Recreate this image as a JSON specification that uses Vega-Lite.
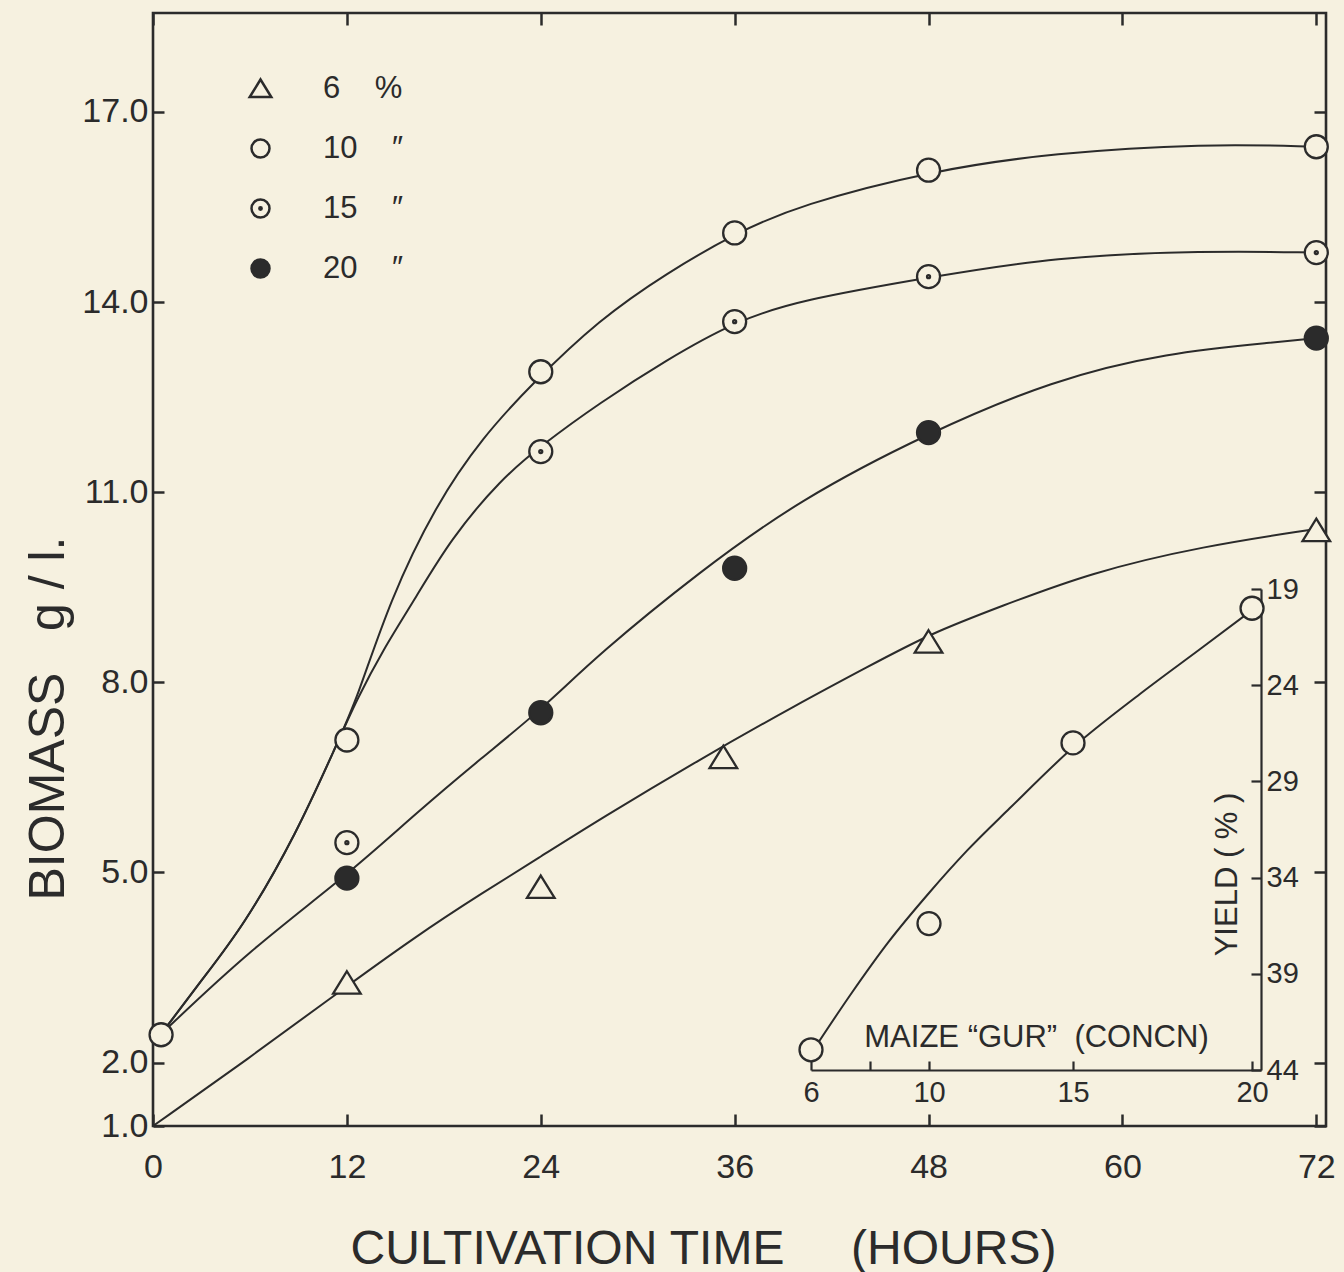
{
  "$schema": "https://vega.github.io/schema/vega-lite/v6.json",
  "width": 1173,
  "height": 1113,
  "autosize": {"type": "none"},
  "padding": {"left": 153, "top": 13, "right": 18, "bottom": 146},
  "background": "#f6f1e0",
  "config": {
    "view": {"stroke": "#2b2b2b", "strokeWidth": 2.6},
    "font": "Liberation Sans",
    "axis": {
      "grid": false,
      "labelFlush": false,
      "labelFont": "Liberation Sans",
      "titleFont": "Liberation Sans",
      "labelColor": "#2b2b2b",
      "titleColor": "#2b2b2b",
      "tickColor": "#2b2b2b",
      "domainColor": "#2b2b2b",
      "titleFontWeight": "normal"
    }
  },
  "datasets": {
    "curves": [
      {"Concn": 6, "Hours": 0, "Biomass": 1.0},
      {"Concn": 6, "Hours": 6, "Biomass": 2.08},
      {"Concn": 6, "Hours": 11.1, "Biomass": 3.04},
      {"Concn": 6, "Hours": 16.3, "Biomass": 4.0},
      {"Concn": 6, "Hours": 20.4, "Biomass": 4.68},
      {"Concn": 6, "Hours": 24, "Biomass": 5.25},
      {"Concn": 6, "Hours": 27.6, "Biomass": 5.83},
      {"Concn": 6, "Hours": 33.8, "Biomass": 6.78},
      {"Concn": 6, "Hours": 40, "Biomass": 7.67},
      {"Concn": 6, "Hours": 44.2, "Biomass": 8.24},
      {"Concn": 6, "Hours": 48.2, "Biomass": 8.78},
      {"Concn": 6, "Hours": 52.4, "Biomass": 9.19},
      {"Concn": 6, "Hours": 58, "Biomass": 9.73},
      {"Concn": 6, "Hours": 65, "Biomass": 10.15},
      {"Concn": 6, "Hours": 72, "Biomass": 10.42},
      {"Concn": 10, "Hours": 0.5, "Biomass": 2.45},
      {"Concn": 10, "Hours": 3, "Biomass": 3.3},
      {"Concn": 10, "Hours": 5.6, "Biomass": 4.15},
      {"Concn": 10, "Hours": 8.9, "Biomass": 5.62},
      {"Concn": 10, "Hours": 11.4, "Biomass": 7.04},
      {"Concn": 10, "Hours": 12.6, "Biomass": 7.72},
      {"Concn": 10, "Hours": 14.66, "Biomass": 9.3},
      {"Concn": 10, "Hours": 17.5, "Biomass": 10.8},
      {"Concn": 10, "Hours": 20.4, "Biomass": 11.87},
      {"Concn": 10, "Hours": 23.5, "Biomass": 12.72},
      {"Concn": 10, "Hours": 27.6, "Biomass": 13.72},
      {"Concn": 10, "Hours": 31.8, "Biomass": 14.46},
      {"Concn": 10, "Hours": 36.1, "Biomass": 15.09},
      {"Concn": 10, "Hours": 40, "Biomass": 15.53},
      {"Concn": 10, "Hours": 48.3, "Biomass": 16.08},
      {"Concn": 10, "Hours": 55.7, "Biomass": 16.35},
      {"Concn": 10, "Hours": 65.1, "Biomass": 16.5},
      {"Concn": 10, "Hours": 72, "Biomass": 16.45},
      {"Concn": 15, "Hours": 0.5, "Biomass": 2.45},
      {"Concn": 15, "Hours": 3, "Biomass": 3.3},
      {"Concn": 15, "Hours": 5.6, "Biomass": 4.15},
      {"Concn": 15, "Hours": 8.9, "Biomass": 5.62},
      {"Concn": 15, "Hours": 11.4, "Biomass": 7.04},
      {"Concn": 15, "Hours": 12.6, "Biomass": 7.72},
      {"Concn": 15, "Hours": 14.2, "Biomass": 8.5},
      {"Concn": 15, "Hours": 16.3, "Biomass": 9.35},
      {"Concn": 15, "Hours": 18.4, "Biomass": 10.25},
      {"Concn": 15, "Hours": 21.5, "Biomass": 11.2},
      {"Concn": 15, "Hours": 24.1, "Biomass": 11.75},
      {"Concn": 15, "Hours": 27.6, "Biomass": 12.4},
      {"Concn": 15, "Hours": 31.8, "Biomass": 13.09},
      {"Concn": 15, "Hours": 36, "Biomass": 13.69},
      {"Concn": 15, "Hours": 40, "Biomass": 14.03},
      {"Concn": 15, "Hours": 48.3, "Biomass": 14.4},
      {"Concn": 15, "Hours": 55.7, "Biomass": 14.71},
      {"Concn": 15, "Hours": 65.1, "Biomass": 14.81},
      {"Concn": 15, "Hours": 72, "Biomass": 14.78},
      {"Concn": 20, "Hours": 0.5, "Biomass": 2.45},
      {"Concn": 20, "Hours": 6, "Biomass": 3.78},
      {"Concn": 20, "Hours": 12, "Biomass": 4.95},
      {"Concn": 20, "Hours": 16.3, "Biomass": 5.94},
      {"Concn": 20, "Hours": 20.4, "Biomass": 6.82},
      {"Concn": 20, "Hours": 24, "Biomass": 7.56},
      {"Concn": 20, "Hours": 27.6, "Biomass": 8.45},
      {"Concn": 20, "Hours": 33.8, "Biomass": 9.74},
      {"Concn": 20, "Hours": 40, "Biomass": 10.88},
      {"Concn": 20, "Hours": 48, "Biomass": 11.94},
      {"Concn": 20, "Hours": 55.7, "Biomass": 12.77},
      {"Concn": 20, "Hours": 62.7, "Biomass": 13.2},
      {"Concn": 20, "Hours": 69.7, "Biomass": 13.37},
      {"Concn": 20, "Hours": 72, "Biomass": 13.43}
    ],
    "points": [
      {"Concn": 6, "Hours": 12, "Biomass": 3.26},
      {"Concn": 6, "Hours": 24, "Biomass": 4.77},
      {"Concn": 6, "Hours": 35.3, "Biomass": 6.82},
      {"Concn": 6, "Hours": 48, "Biomass": 8.64},
      {"Concn": 6, "Hours": 72, "Biomass": 10.4},
      {"Concn": 10, "Hours": 0.5, "Biomass": 2.44},
      {"Concn": 10, "Hours": 12, "Biomass": 7.09},
      {"Concn": 10, "Hours": 24, "Biomass": 12.9},
      {"Concn": 10, "Hours": 36, "Biomass": 15.09},
      {"Concn": 10, "Hours": 48, "Biomass": 16.08},
      {"Concn": 10, "Hours": 72, "Biomass": 16.45},
      {"Concn": 15, "Hours": 12, "Biomass": 5.47},
      {"Concn": 15, "Hours": 24, "Biomass": 11.64},
      {"Concn": 15, "Hours": 36, "Biomass": 13.69},
      {"Concn": 15, "Hours": 48, "Biomass": 14.4},
      {"Concn": 15, "Hours": 72, "Biomass": 14.78},
      {"Concn": 20, "Hours": 12, "Biomass": 4.91},
      {"Concn": 20, "Hours": 24, "Biomass": 7.52},
      {"Concn": 20, "Hours": 36, "Biomass": 9.8},
      {"Concn": 20, "Hours": 48, "Biomass": 11.94},
      {"Concn": 20, "Hours": 72, "Biomass": 13.43}
    ],
    "insetCurve": [
      {"Gur": 6, "Yield": 43.15},
      {"Gur": 7.39, "Yield": 39.97},
      {"Gur": 8.61, "Yield": 37.38},
      {"Gur": 10, "Yield": 34.8},
      {"Gur": 11.32, "Yield": 32.6},
      {"Gur": 12.8, "Yield": 30.4},
      {"Gur": 15, "Yield": 27.24},
      {"Gur": 16.87, "Yield": 24.46},
      {"Gur": 18.59, "Yield": 22.07},
      {"Gur": 20, "Yield": 20.1}
    ],
    "insetPoints": [
      {"Gur": 6, "Yield": 42.95},
      {"Gur": 10, "Yield": 36.39},
      {"Gur": 15, "Yield": 27.0},
      {"Gur": 20, "Yield": 20.0}
    ]
  },
  "layer": [
    {
      "data": {"name": "curves"},
      "mark": {"type": "line", "interpolate": "basis", "stroke": "#2b2b2b", "strokeWidth": 2},
      "encoding": {
        "x": {
          "field": "Hours", "type": "quantitative",
          "scale": {"domain": [0, 72.6], "nice": false, "zero": false},
          "axis": {
            "orient": "bottom", "values": [0, 12, 24, 36, 48, 60, 72], "domain": false,
            "tickSize": -12, "tickWidth": 2.5, "labelFontSize": 34, "labelPadding": 36,
            "title": "CULTIVATION TIME\u00a0\u00a0\u00a0\u00a0\u00a0(HOURS)", "titleFontSize": 48,
            "titleX": 550, "titleY": 137, "titleAlign": "center", "titleBaseline": "alphabetic"
          }
        },
        "y": {
          "field": "Biomass", "type": "quantitative",
          "scale": {"domain": [1, 18.56], "nice": false, "zero": false},
          "axis": {
            "orient": "left", "values": [1, 2, 5, 8, 11, 14, 17], "format": ".1f", "domain": false,
            "tickSize": -11, "tickWidth": 2.5, "labelFontSize": 34, "labelPadding": 16,
            "title": "BIOMASS\u00a0\u00a0\u00a0g / l.", "titleFontSize": 50, "titleAngle": 270,
            "titleX": -90, "titleY": 705, "titleAlign": "center", "titleBaseline": "alphabetic"
          }
        },
        "detail": {"field": "Concn", "type": "nominal"}
      }
    },
    {
      "data": {"name": "points"},
      "mark": {"type": "point", "filled": true, "opacity": 1, "stroke": "#2b2b2b", "strokeWidth": 2.3, "size": 529},
      "encoding": {
        "x": {
          "field": "Hours", "type": "quantitative",
          "scale": {"domain": [0, 72.6], "nice": false, "zero": false},
          "axis": {"orient": "top", "values": [0, 12, 24, 36, 48, 60, 72], "domain": false, "labels": false, "tickSize": -12, "tickWidth": 2.5, "title": null}
        },
        "y": {
          "field": "Biomass", "type": "quantitative",
          "scale": {"domain": [1, 18.56], "nice": false, "zero": false},
          "axis": {"orient": "right", "values": [1, 2, 5, 8, 11, 14, 17], "domain": false, "labels": false, "tickSize": -12, "tickWidth": 2.5, "title": null}
        },
        "shape": {
          "field": "Concn", "type": "nominal",
          "scale": {
            "domain": [6, 10, 15, 20],
            "range": [
              "M 0 -1 L 1.2 0.95 L -1.2 0.95 Z",
              "circle",
              "M -1 0 A 1 1 0 1 1 1 0 A 1 1 0 1 1 -1 0 Z M -0.13 0 A 0.13 0.13 0 1 1 0.13 0 A 0.13 0.13 0 1 1 -0.13 0 Z",
              "circle"
            ]
          },
          "legend": {
            "orient": "none", "legendX": 92, "legendY": 60, "title": null, "padding": 0,
            "labelFont": "Liberation Sans", "labelFontSize": 31, "labelColor": "#2b2b2b",
            "symbolSize": 324, "symbolStrokeWidth": 2.5,
            "labelOffset": 47, "rowPadding": 28,
            "labelExpr": "datum.label == '6' ? '\u20076\u00a0\u00a0\u00a0\u00a0%' : datum.label + '\u00a0\u00a0\u00a0\u00a0\u2033'"
          }
        },
        "color": {
          "field": "Concn", "type": "nominal",
          "scale": {"domain": [6, 10, 15, 20], "range": ["#f6f1e0", "#f6f1e0", "#f6f1e0", "#2b2b2b"]},
          "legend": {
            "orient": "none", "legendX": 92, "legendY": 60, "title": null, "padding": 0,
            "labelFont": "Liberation Sans", "labelFontSize": 31, "labelColor": "#2b2b2b",
            "symbolSize": 324, "symbolStrokeWidth": 2.5,
            "labelOffset": 47, "rowPadding": 28,
            "labelExpr": "datum.label == '6' ? '\u20076\u00a0\u00a0\u00a0\u00a0%' : datum.label + '\u00a0\u00a0\u00a0\u00a0\u2033'"
          }
        }
      }
    },
    {
      "data": {"name": "insetCurve"},
      "mark": {"type": "line", "interpolate": "monotone", "stroke": "#2b2b2b", "strokeWidth": 2},
      "encoding": {
        "x": {
          "field": "Gur", "type": "quantitative",
          "scale": {"domain": [6, 10, 15, 20.25], "range": [658, 776, 920, 1108], "nice": false, "zero": false},
          "axis": {
            "orient": "bottom", "offset": -56, "values": [6, 8, 10, 15, 20],
            "labelExpr": "datum.value == 8 ? '' : datum.label",
            "domain": true, "domainWidth": 2.2, "tickSize": -9, "tickWidth": 2.2,
            "labelFontSize": 29, "labelPadding": 17,
            "title": "MAIZE \u201cGUR\u201d\u00a0\u00a0(CONCN)", "titleFontSize": 31,
            "titleX": 883, "titleY": -24, "titleAlign": "center", "titleBaseline": "alphabetic"
          }
        },
        "y": {
          "field": "Yield", "type": "quantitative",
          "scale": {"domain": [19, 44], "range": [576, 1057], "nice": false, "zero": false},
          "axis": {
            "orient": "right", "offset": -65, "values": [19, 24, 29, 34, 39, 44],
            "domain": true, "domainWidth": 2.2, "tickSize": -10, "tickWidth": 2.2,
            "labelFontSize": 29, "labelPadding": 15,
            "title": "YIELD ( % )", "titleFontSize": 31, "titleAngle": 270,
            "titleX": -25, "titleY": 861, "titleAlign": "center", "titleBaseline": "alphabetic"
          }
        }
      }
    },
    {
      "data": {"name": "insetPoints"},
      "mark": {"type": "point", "shape": "circle", "filled": true, "opacity": 1, "fill": "#f6f1e0", "stroke": "#2b2b2b", "strokeWidth": 2.3, "size": 529},
      "encoding": {
        "x": {
          "field": "Gur", "type": "quantitative",
          "scale": {"domain": [6, 10, 15, 20.25], "range": [658, 776, 920, 1108], "nice": false, "zero": false},
          "axis": null
        },
        "y": {
          "field": "Yield", "type": "quantitative",
          "scale": {"domain": [19, 44], "range": [576, 1057], "nice": false, "zero": false},
          "axis": null
        }
      }
    }
  ],
  "resolve": {
    "scale": {"x": "independent", "y": "independent"},
    "axis": {"x": "independent", "y": "independent"}
  }
}
